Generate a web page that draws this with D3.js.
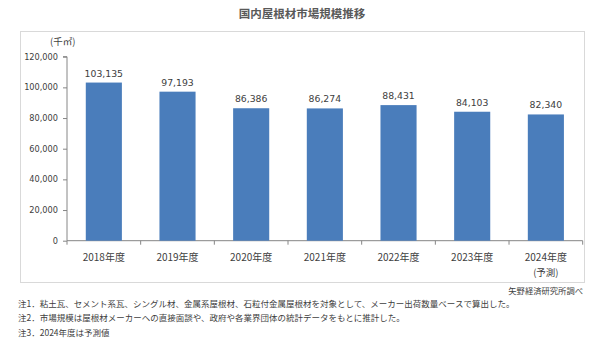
<!DOCTYPE html>
<html><head><meta charset="utf-8">
<script src="https://cdn.jsdelivr.net/npm/d3@7"></script>
<style>body{margin:0;background:#fff}svg{display:block}</style>
</head><body>
<svg id="c" width="600" height="357"></svg>
<script>
const categories = ["2018年度","2019年度","2020年度","2021年度","2022年度","2023年度","2024年度"];
const subLabels = ["","","","","","","(予測)"];
const values = [103135, 97193, 86386, 86274, 88431, 84103, 82340];
const yTicks = [0, 20000, 40000, 60000, 80000, 100000, 120000];
const title = "国内屋根材市場規模推移";
const unit = "(千㎡)";
const source = "矢野経済研究所調べ";
const notes = [
  "注1．粘土瓦、セメント系瓦、シングル材、金属系屋根材、石粒付金属屋根材を対象として、メーカー出荷数量ベースで算出した。",
  "注2．市場規模は屋根材メーカーへの直接面談や、政府や各業界団体の統計データをもとに推計した。",
  "注3．2024年度は予測値"
];

const svg = d3.select("#c");
const jp = "'Noto Sans CJK JP','Noto Sans',sans-serif";
const num = "'DejaVu Sans',sans-serif";
const txt = "#404040";

svg.append("text").attr("x", 302).attr("y", 18).attr("text-anchor","middle")
  .attr("font-family", jp).attr("font-size", 11.5).attr("font-weight", 700)
  .attr("fill", "#595959").text(title);

svg.append("rect").attr("x", 20.5).attr("y", 31.5).attr("width", 564).attr("height", 251)
  .attr("fill", "#fff").attr("stroke", "#d9d9d9");

const x = d3.scaleBand().domain(categories).range([67, 582.7]).paddingInner(0.51).paddingOuter(0.255);
const y = d3.scaleLinear().domain([0, 120000]).range([240.7, 56.7]);

const ax = svg.append("g").attr("transform", "translate(67,0)")
  .call(d3.axisLeft(y).tickValues(yTicks).tickFormat(d3.format(",")).tickSize(4).tickPadding(5));
ax.select(".domain").attr("stroke", "#868686").attr("d", `M-4,${y(120000)}H0V${y(0)}`);
ax.selectAll(".tick line").attr("stroke", "#868686");
ax.selectAll(".tick text").attr("font-family", num).attr("font-size", 8.2).attr("fill", txt);

svg.append("text").attr("x", 50).attr("y", 45).attr("font-family", jp).attr("font-size", 9.5)
  .attr("fill", txt).text(unit);

const step = x.step();
const xg = svg.append("g");
xg.append("line").attr("x1", 67).attr("x2", 582.7).attr("y1", y(0)).attr("y2", y(0)).attr("stroke", "#868686");
d3.range(categories.length + 1).forEach(i => {
  const xx = 67 + i * step;
  xg.append("line").attr("x1", xx).attr("x2", xx).attr("y1", y(0)).attr("y2", y(0) + 4).attr("stroke", "#868686");
});

svg.append("g").selectAll("rect").data(values).join("rect")
  .attr("x", (d, i) => x(categories[i])).attr("width", x.bandwidth())
  .attr("y", d => y(d)).attr("height", d => y(0) - y(d)).attr("fill", "#4a7dbb");

svg.append("g").selectAll("text").data(values).join("text")
  .attr("x", (d, i) => x(categories[i]) + x.bandwidth() / 2).attr("y", d => y(d) - 6)
  .attr("text-anchor", "middle").attr("font-family", num).attr("font-size", 9.3).attr("fill", txt)
  .text(d3.format(","));

svg.append("g").selectAll("text").data(categories).join("text")
  .attr("x", d => x(d) + x.bandwidth() / 2).attr("y", 261)
  .attr("text-anchor", "middle").attr("font-family", jp).attr("font-size", 10).attr("fill", txt)
  .text(d => d);
svg.append("g").selectAll("text").data(subLabels).join("text")
  .attr("x", (d, i) => x(categories[i]) + x.bandwidth() / 2).attr("y", 276)
  .attr("text-anchor", "middle").attr("font-family", jp).attr("font-size", 9.5).attr("fill", txt)
  .text(d => d);

svg.append("text").attr("x", 583).attr("y", 294).attr("text-anchor", "end")
  .attr("font-family", jp).attr("font-size", 8.3).attr("fill", txt).text(source);

svg.append("g").selectAll("text").data(notes).join("text")
  .attr("x", 18).attr("y", (d, i) => 307 + i * 14.3)
  .attr("font-family", jp).attr("font-size", 8.5).attr("fill", txt).text(d => d);
</script>
</body></html>
